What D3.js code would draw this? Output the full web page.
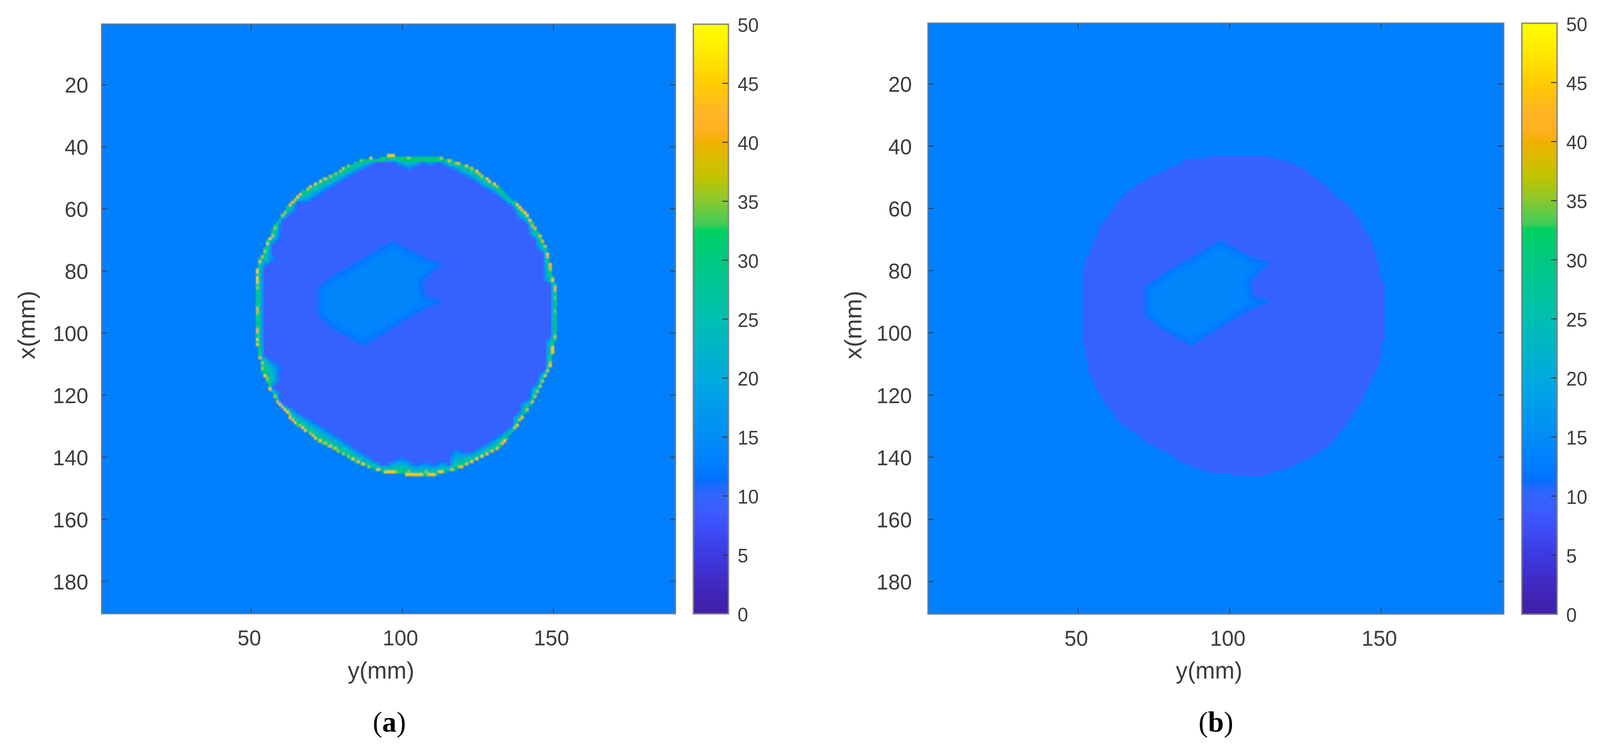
<!DOCTYPE html>
<html><head><meta charset="utf-8">
<style>html,body{margin:0;padding:0;background:#fff;width:100%;height:100%;overflow:hidden}svg{display:block;width:100vw;height:100vh}</style>
<script src="https://cdn.jsdelivr.net/npm/d3@7/dist/d3.min.js"></script>
</head><body><svg id="c" viewBox="0 0 4216 1925" preserveAspectRatio="none"></svg>
<script>
// ---------- data (mm; [y, x]) ----------
const xAxisTicks = [50,100,150];
const yAxisTicks = [20,40,60,80,100,120,140,160,180];
const barTicks = [0,5,10,15,20,25,30,35,40,45,50];
const panelNames = ["a","b"];
const axisRange = [0.5,190.5];
const gridCells = 227;
const outsideValue = 13;
const discValue = 9.5;
const patchPeakValue = 14;
const rimLowValue = 11;
const rimHighValue = 31;
const colorStops = [0,2.5,5,8,10,11,11.4,13,15,17,20,25,30,32.6,33,33.5,35,37,38.5,40,41,42.5,45,47,50];
const colorValues = ["#3f1ea8","#4128c0","#3c3ae0","#3d55ff","#3366ff","#1a6aff","#0070ff","#0080ff","#008cf5","#0098ee","#00aadd","#00bfb0","#00c880","#00d060","#40cc55","#50cc50","#88c830","#c0c400","#d8bc00","#f0b000","#ffb020","#ffb526","#ffcc00","#ffe400","#ffff00"];
const outerEdge = [[51.8,99.7],[51.8,79.8],[52.5,76.7],[53.5,75],[54.2,73.3],[54.8,71.2],[55.9,69.3],[56.7,67.6],[57.5,66],[58.3,64.3],[59.9,62.4],[60.9,61.1],[62.4,58.6],[64.3,57],[65.7,55.2],[68.2,53.8],[69.3,52.7],[70.9,51.9],[73.7,50.2],[75.6,49.4],[77.2,48.7],[78.9,47.9],[80.6,46.8],[82.3,46.2],[83.9,45.4],[85.6,44.5],[89.8,43.7],[95.5,43.5],[105.1,43.6],[113.3,43.6],[116,44.3],[118.9,45.1],[121.6,46],[123.1,46.9],[124.8,47.7],[125.8,48.7],[126.7,49.6],[128.3,50.2],[129.2,51],[130.8,51.9],[131.7,52.7],[132.7,53.6],[134.5,55.2],[136.5,57],[138.4,58.6],[139.9,60.1],[141.7,62],[142.6,63.6],[144.2,66],[145.7,68.5],[146.5,70.1],[147.5,71.8],[148.2,74],[149.1,77.3],[150,82.3],[151,84.8],[151,99.7],[151,101.8],[150,103.9],[150,106.2],[149.1,111.1],[148.2,113],[147.5,114.4],[146.6,116.1],[145.8,117.8],[144.9,119.3],[144.1,121],[143.3,122.6],[141.7,124.9],[139.9,127.4],[138.6,129.6],[137.5,131],[136.2,132.4],[134.6,134.4],[133.4,135.8],[131.7,137.2],[130,138.4],[128.3,139.2],[126.7,140],[125,140.9],[123.3,141.7],[121.6,142.6],[120,143.4],[117,144.2],[113.7,145.1],[111.3,146],[105.1,146],[101.3,146],[101.2,145.1],[94.6,145.1],[91.3,144.2],[88.8,143.4],[86.2,142.6],[84.6,141.7],[82.9,140.9],[82,140],[80.4,139.2],[78.7,138.4],[77,137.5],[75.4,136.7],[73.7,135.8],[72,135],[70.7,134.2],[69.1,132.5],[67.4,131.6],[66.6,130.8],[65.7,130],[64,129.1],[63.2,128.3],[62.4,127.4],[62,125.8],[60.7,124.9],[59.9,124.1],[59,123.2],[58.3,122.4],[57.5,120.7],[56.7,119],[55.9,118.6],[55.9,116.5],[55,115.3],[54.2,114.4],[53.5,111.9],[53.5,109.4],[52.5,108.5],[52.5,104.6],[51.8,104.4]];
const innerEdge = [[54.2,99.7],[54.2,78.7],[57.5,76.7],[58.2,76],[56.9,74.6],[57.1,71.6],[59.6,69.7],[59.9,64],[64.7,60.7],[64.9,57.8],[66.6,58],[69.1,58],[72,55.9],[77,53],[84.6,48.5],[90.8,45.4],[92.9,44.7],[98,45.4],[102.6,47.7],[106.5,45.2],[109.7,45.8],[112.6,45.2],[115.1,46.6],[117.7,47.7],[119.7,49],[123.9,51],[126.9,53.4],[130.2,54.8],[134.4,58.2],[136.7,59.4],[137.8,62.4],[141.5,65.1],[142,68.3],[144.2,70],[144.5,72.9],[146.6,74.1],[146.8,83],[149.1,84.6],[149.1,99.7],[149.1,101.4],[147.6,102.3],[147.4,111.9],[145.1,113.4],[144.7,116.5],[142.4,118],[142.2,121.6],[139.2,122.6],[139,125.4],[136.7,127],[136.5,130],[132.3,132.9],[126.9,136.3],[122.7,138.6],[120.2,138.4],[118.5,137.5],[116.8,137.7],[115.6,140.5],[115.6,142.6],[113.5,141.3],[111.4,142.3],[110.5,142.6],[107.6,141.7],[104.7,142.6],[99.6,140],[94.2,142.6],[91.7,141.7],[86.2,138.4],[77.9,132.9],[71.6,129.1],[59.9,122.4],[59.2,119],[56.9,117.8],[59.4,115.3],[59.2,113.6],[59.9,110.7],[56.5,108.8],[54.2,107.1]];
const patchEdge = [[97,70.8],[108,76.5],[112.8,77.4],[106.4,83.6],[107.6,88.9],[112.8,89.8],[107.2,92],[87.2,103.9],[77.6,98.6],[72.4,94.2],[72.4,85.4],[78.4,81.4]];
const hotCells = [[52.1,80,44],[52.1,80.8,44],[52.1,81.7,44],[52.1,82.5,44],[52.1,83.3,44],[52.1,84.2,44],[52.1,85.5,36],[52.1,92.2,38],[52.1,93,38],[52.1,93.8,36],[52.1,98.5,40],[52.1,99.3,40],
[52.95,76.9,40],[53.8,75.2,37],[54.5,73.5,36],[55.4,71.4,44],[56.3,69.6,44],[57.1,68.3,38],[57.9,66.3,36],[60.3,62.1,36],[61.2,61.3,36],[62.9,58.8,42],[63.75,58,42],[64.5,57.1,38],[65.4,56.3,42],[66.3,55.5,42],[68.7,53.8,36],[69.6,53,42],[71.2,52.1,44],[72.6,51.3,44],[74.2,50.4,42],[75.9,49.7,36],[77.65,48.7,35],[79.2,48,35],[80.85,47.2,38],[82.5,46.3,35],[85.9,44.6,34],[90,43.8,44],[95.9,43,44],[96.7,43,44],[97.5,43,44],[102.4,43.9,36],
[113.26,43.8,37],[115.8,44.6,40],[118.1,45.5,37],[118.9,45.5,37],[121.2,46.3,42],[122.9,47.1,38],[124.6,48,44],[125.4,48.9,40],[126.2,49.7,36],[127.9,50.4,44],[128.75,51.3,41],[130.4,52.2,44],[131.3,53,36],[138,58.8,44],[138.7,59.7,44],[139.5,60.6,42],[140.4,61.4,44],[141.2,62.2,44],[142.1,63.9,42],[142.9,65.5,36],[143.7,66.4,40],[145.4,68.8,38],[146.2,70.5,38],[147.05,72.1,38],[147.85,74.3,44],[147.85,75.2,38],[148.7,77.7,42],[148.7,78.75,38],[148.7,79.6,36],[149.6,82.7,44],[150.4,85.3,42],[150.4,86.1,38],[150.4,89.2,34],[150.4,92.8,34],
[150.4,101.6,38],[149.6,104.4,44],[149.6,105.2,44],[149.6,106,44],[148.7,110,38],[148.7,110.9,44],[147.85,112.5,38],[147.05,114.1,38],[146.2,115.8,36],[145.4,117.6,36],[144.5,119.1,36],[143.7,120.6,36],[142.9,122.3,38],[141.3,124.7,37],[139.55,127.2,42],[138.7,128.2,36],[138,129.8,44],[137.1,130.6,37],[133.7,134.7,44],[132.85,135.4,42],[131.3,137.1,42],[129.6,138,40],[127.9,138.9,42],[126.2,139.8,44],[124.6,140.5,44],[122.9,141.4,44],[121.2,142.2,41],[119.5,143.1,42],[118.7,143.1,38],[116.5,143.9,38],[113.05,144.7,44],[112.4,144.7,38],[110.5,145.6,44],[109.7,145.6,44],[108.9,145.6,44],[106.1,145.6,44],[105.3,145.6,44],
[52.1,101.8,42],[52.1,102.6,44],[52.1,103.5,44],[52.95,108.4,40],[53.8,109.4,36],[53.8,110,36],[53.8,111.7,36],[54.5,114.1,44],[55.5,115.1,36],[56.2,118.3,43],[57.9,120.5,36],[58.7,122.3,40],[59.65,123,44],[60.5,124,38],[61.3,124.8,44],[62.1,125.6,44],[63,126.4,36],[63,127.2,44],[63.75,128.1,40],[64.7,128.9,42],[66.3,129.8,36],[67.1,130.6,42],[67.95,131.4,44],[69.6,132.3,36],[70.4,133.1,38],[71.25,134,42],[72.7,134.7,42],[74.3,135.6,38],[76,136.5,42],[77.65,137.2,38],[79.15,138.1,36],[80.85,138.9,36],[82.5,139.8,36],[83.4,140.5,44],[85.1,141.4,42],[86.75,142.2,44],[89.2,143,36],[91.8,143.8,44],[95,144.7,44],[95.8,144.7,44],[96.7,144.7,44],[97.5,144.7,44],[98.4,144.7,36],[102.4,144.7,35],[108.2,144.7,35],[101.5,145.6,44],[102.3,145.6,44],[103.2,145.6,44],[104,145.6,44],[104.8,145.6,44]];

// ---------- helpers ----------
const color = d3.scaleLinear().domain(colorStops).range(colorValues).clamp(true);
function edgeDist(p, poly){
  let best = Infinity;
  for(let i=0;i<poly.length;i++){
    const a=poly[i], b=poly[(i+1)%poly.length];
    const dx=b[0]-a[0], dy=b[1]-a[1];
    const l=dx*dx+dy*dy;
    const t=l?Math.max(0,Math.min(1,((p[0]-a[0])*dx+(p[1]-a[1])*dy)/l)):0;
    const d=Math.hypot(p[0]-a[0]-t*dx,p[1]-a[1]-t*dy);
    if(d<best) best=d;
  }
  return best;
}
const step = (axisRange[1]-axisRange[0])/gridCells;
const cellIndex = v => Math.floor((v-axisRange[0])/step);
const hotMap = new Map(hotCells.map(h=>[cellIndex(h[1])*gridCells+cellIndex(h[0]),h[2]]));

function buildField(withRim){
  const rows=[];
  for(let r=0;r<gridCells;r++){
    const cx=axisRange[0]+(r+.5)*step;
    if(cx<40||cx>150) continue;
    const runs=[]; let cur=null;
    for(let c=0;c<gridCells;c++){
      const cy=axisRange[0]+(c+.5)*step;
      if(cy<48||cy>155) continue;
      const p=[cy,cx];
      let v=outsideValue;
      if(d3.polygonContains(outerEdge,p)){
        v=discValue;
        if(withRim && !d3.polygonContains(innerEdge,p)){
          const dIn=edgeDist(p,innerEdge), dOut=edgeDist(p,outerEdge);
          const t=Math.min(1,1.1*dIn/(dIn+dOut));
          v=rimLowValue+(rimHighValue-rimLowValue)*Math.pow(t,0.85);
          if(dOut<0.9) v=Math.max(v,30);
        }
        if(cx>66&&cx<108&&cy>68&&cy<118){
          const d=edgeDist(p,patchEdge);
          if(d3.polygonContains(patchEdge,p)){
            const s=Math.min(1,(d+1)/4.2);
            v=discValue+(patchPeakValue-discValue)*Math.sqrt(s);
          } else if(d<1){
            v=discValue+(patchPeakValue-discValue)*Math.sqrt(1/4.2)*(1-d);
          }
        }
      }
      if(withRim){ const h=hotMap.get(r*gridCells+c); if(h!==undefined) v=h; }
      v=Math.round(v*4)/4;
      if(cur && cur.v===v) cur.c1=c; else { cur={r,c0:c,c1:c,v}; runs.push(cur); }
    }
    rows.push(...runs.filter(d=>d.v!==outsideValue));
  }
  return rows;
}

// ---------- layout ----------
const svg=d3.select("#c");
const defs=svg.append("defs");
defs.append("filter").attr("id","soft").attr("x","-5%").attr("y","-5%").attr("width","110%").attr("height","110%")
  .append("feGaussianBlur").attr("stdDeviation",1.6);
const layouts=[
 {left:267.5,right:1780,top:61.5,bottom:1571,barL:1827,barR:1919.5,barTop:62,barBottom:1571,ylabX:92,ylabY:832,xlabX:1004,capX:1026,rim:true,name:panelNames[0],tickGap:35},
 {left:2445,right:3962.5,top:59,bottom:1572,barL:4010,barR:4103,barTop:59.5,barBottom:1572,ylabX:2270,ylabY:832,xlabX:3186,capX:3204,rim:false,name:panelNames[1],tickGap:42}
];
const sans='"Liberation Sans",Arial,sans-serif';
const ink="#3c3c3c", frame="#7d7d7d";

layouts.forEach((L,i)=>{
  const g=svg.append("g");
  const x=d3.scaleLinear().domain(axisRange).range([L.left,L.right]);
  const y=d3.scaleLinear().domain(axisRange).range([L.top,L.bottom]);
  const clipId="clip"+i;
  defs.append("clipPath").attr("id",clipId).append("rect")
    .attr("x",L.left).attr("y",L.top).attr("width",L.right-L.left).attr("height",L.bottom-L.top);
  const plot=g.append("g").attr("clip-path",`url(#${clipId})`);
  plot.append("rect").attr("x",L.left).attr("y",L.top).attr("width",L.right-L.left).attr("height",L.bottom-L.top).attr("fill",color(outsideValue));
  const cellSize=d=>({x:x(axisRange[0]+d.c0*step),y:y(axisRange[0]+d.r*step),w:x(axisRange[0]+(d.c1+1)*step)-x(axisRange[0]+d.c0*step),h:y(axisRange[0]+(d.r+1)*step)-y(axisRange[0]+d.r*step)});
  plot.append("g").attr("filter","url(#soft)").selectAll("rect").data(buildField(L.rim)).join("rect")
    .attr("x",d=>cellSize(d).x).attr("y",d=>cellSize(d).y)
    .attr("width",d=>cellSize(d).w+0.4).attr("height",d=>cellSize(d).h+0.4)
    .attr("fill",d=>color(d.v)).attr("shape-rendering","crispEdges");

  // axes
  const T=15;
  const styleAxis=s=>{ s.select(".domain").remove();
    s.selectAll(".tick line").attr("stroke","#333").attr("stroke-width",2);
    s.selectAll(".tick text").attr("fill",ink).attr("font-family",sans).attr("font-size",56); };
  g.append("g").attr("transform",`translate(0,${L.bottom})`)
    .call(d3.axisBottom(x).tickValues(xAxisTicks).tickSize(-T).tickPadding(0).tickFormat(d3.format("d"))).call(styleAxis)
    .selectAll(".tick text").attr("y",0).attr("dy",0).attr("transform","translate(-5,81)");
  g.append("g").attr("transform",`translate(0,${L.top})`)
    .call(d3.axisTop(x).tickValues(xAxisTicks).tickSize(-T).tickFormat("")).call(styleAxis);
  g.append("g").attr("transform",`translate(${L.left},0)`)
    .call(d3.axisLeft(y).tickValues(yAxisTicks).tickSize(-T).tickFormat(d3.format("d"))).call(styleAxis)
    .selectAll(".tick text").attr("x",-L.tickGap).attr("dy",20.5);
  g.append("g").attr("transform",`translate(${L.right},0)`)
    .call(d3.axisRight(y).tickValues(yAxisTicks).tickSize(-T).tickFormat("")).call(styleAxis);
  g.append("rect").attr("x",L.left).attr("y",L.top).attr("width",L.right-L.left).attr("height",L.bottom-L.top)
    .attr("fill","none").attr("stroke",frame).attr("stroke-width",3);

  // axis titles and caption
  g.append("text").attr("x",L.xlabX).attr("y",1737).attr("text-anchor","middle").attr("fill",ink)
    .attr("font-family",sans).attr("font-size",62).text("y(mm)");
  g.append("text").attr("transform",`translate(${L.ylabX},${L.ylabY}) rotate(-90)`).attr("text-anchor","middle").attr("fill",ink)
    .attr("font-family",sans).attr("font-size",62).text("x(mm)");
  const cap=g.append("text").attr("x",L.capX).attr("y",1873).attr("text-anchor","middle").attr("fill","#000")
    .attr("font-family",'"Liberation Serif",serif').attr("font-size",75);
  cap.append("tspan").text("(");
  cap.append("tspan").attr("font-weight","bold").text(L.name);
  cap.append("tspan").text(")");

  // colour bar
  const bar=d3.scaleLinear().domain([0,50]).range([L.barBottom,L.barTop]);
  const bg=g.append("g");
  bg.selectAll("rect").data(d3.range(0,50,0.1)).join("rect")
    .attr("x",L.barL).attr("width",L.barR-L.barL)
    .attr("y",d=>bar(d+0.1)).attr("height",d=>bar(d)-bar(d+0.1)+0.6)
    .attr("fill",d=>color(d+0.05)).attr("shape-rendering","crispEdges");
  const ba=g.append("g").attr("transform",`translate(${L.barR},0)`)
    .call(d3.axisRight(bar).tickValues(barTicks).tickSize(-16).tickFormat(d3.format("d"))).call(s=>{
      s.select(".domain").remove();
      s.selectAll(".tick line").attr("stroke","#333").attr("stroke-width",2.5);
      s.selectAll(".tick text").attr("fill",ink).attr("font-family",sans).attr("font-size",50).attr("x",24).attr("dy",19.5);
    });
  ba.selectAll(".tick").filter(d=>d===0||d===50).select("line").remove();
  g.append("rect").attr("x",L.barL).attr("y",L.barTop).attr("width",L.barR-L.barL).attr("height",L.barBottom-L.barTop)
    .attr("fill","none").attr("stroke",frame).attr("stroke-width",4).attr("stroke-opacity",0.85);
});
</script></body></html>
